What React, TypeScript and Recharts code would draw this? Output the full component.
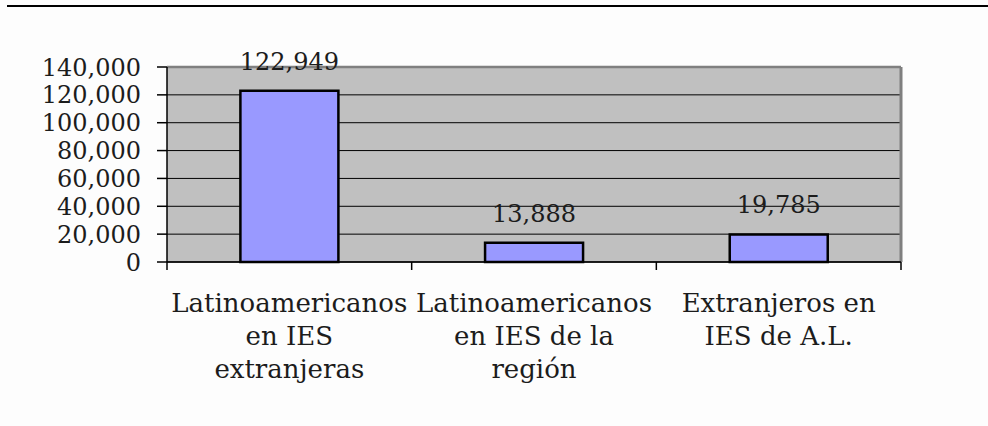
import React from 'react';
import { BarChart, Bar, XAxis, YAxis, CartesianGrid, LabelList, ReferenceLine } from 'recharts';

const categories = [
  'Latinoamericanos en IES extranjeras',
  'Latinoamericanos en IES de la región',
  'Extranjeros en IES de A.L.',
];
const categoryLines = [
  ['Latinoamericanos', 'en IES', 'extranjeras'],
  ['Latinoamericanos', 'en IES de la', 'región'],
  ['Extranjeros en', 'IES de A.L.'],
];
const values = [122949, 13888, 19785];
const yTicks = [0, 20000, 40000, 60000, 80000, 100000, 120000, 140000];

// category slots on a numeric axis: boundaries at integers, centres at halves
const slotCount = categories.length;
const xTicks = Array.from({ length: slotCount * 2 + 1 }, (_, i) => i / 2);
const data = categories.map((name, i) => ({ name, pos: i + 0.5, value: values[i] }));

const FONT = '"DejaVu Serif", serif';
const TEXT = '#1c1c1c';
const fmt = (v: number) => v.toLocaleString('en-US');

const CategoryTick = (props: any) => {
  const { x, y, payload } = props;
  const v = payload.value as number;
  if (Math.abs(v - Math.round(v)) < 1e-6) {
    return <line x1={x} y1={y} x2={x} y2={y + 8} stroke="#000" strokeWidth={1.5} />;
  }
  const idx = Math.floor(v);
  const lines = categoryLines[idx] || [];
  return (
    <g>
      {lines.map((t, i) => (
        <text
          key={i}
          x={x}
          y={y + 50 + i * 33}
          textAnchor="middle"
          fontFamily={FONT}
          fontSize={26}
          fill={TEXT}
        >
          {t}
        </text>
      ))}
    </g>
  );
};

const ValueLabel = (props: any) => {
  const { x, y, width, value } = props;
  return (
    <text
      x={x + width / 2}
      y={y - 21}
      textAnchor="middle"
      fontFamily={FONT}
      fontSize={24}
      fill={TEXT}
    >
      {fmt(value)}
    </text>
  );
};

export default function App() {
  return (
    <div style={{ position: 'absolute', left: 0, top: 0, width: 988, height: 426, background: '#fdfdfd' }}>
      <div style={{ position: 'absolute', left: 7, top: 5, width: 981, height: 2, background: '#000' }} />
      <BarChart
        width={988}
        height={426}
        data={data}
        margin={{ top: 67, right: 87, bottom: 0, left: 0 }}
        barCategoryGap="30%"
      >
        <CartesianGrid
          vertical={false}
          stroke="#000"
          strokeWidth={1}
          fill="#c0c0c0"
          fillOpacity={1}
        />
        <XAxis
          dataKey="pos"
          type="number"
          domain={[0, slotCount]}
          ticks={xTicks}
          allowDataOverflow
          height={164}
          tickLine={false}
          tickSize={0}
          tickMargin={0}
          axisLine={{ stroke: '#000', strokeWidth: 1.5 }}
          tick={<CategoryTick />}
          interval={0}
        />
        <YAxis
          width={167}
          domain={[0, 140000]}
          ticks={yTicks}
          interval={0}
          tickFormatter={fmt}
          tickSize={10}
          tickMargin={16}
          tickLine={{ stroke: '#000', strokeWidth: 1.5 }}
          axisLine={{ stroke: '#000', strokeWidth: 1.5 }}
          tick={{ fontFamily: FONT, fontSize: 24, fill: TEXT }}
        />
        <ReferenceLine y={140000} stroke="#808080" strokeWidth={2.5} />
        <ReferenceLine x={slotCount} stroke="#7f7f7f" strokeWidth={3} />
        <Bar
          dataKey="value"
          fill="#9999ff"
          stroke="#000"
          strokeWidth={2.5}
          isAnimationActive={false}
        >
          <LabelList dataKey="value" content={<ValueLabel />} />
        </Bar>
      </BarChart>
    </div>
  );
}
